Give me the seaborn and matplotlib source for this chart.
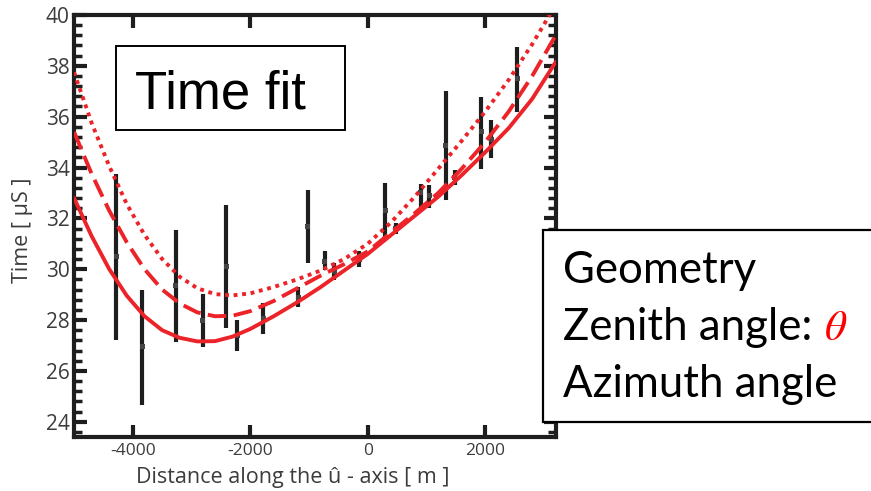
import numpy as np
import pandas as pd
import seaborn as sns
import matplotlib
matplotlib.use("Agg")
import matplotlib.pyplot as plt
from matplotlib.patches import Rectangle
from matplotlib.ticker import MultipleLocator

# ---------------- data ----------------
pt_x = [-4283, -3842, -3266, -2810, -2410, -2218, -1780, -1180, -1017, -734, -574,
        -142, 298, 478, 903, 1044, 1326, 1480, 1932, 2100, 2542]
pt_y = [30.5, 26.94, 29.37, 28.0, 30.09, 27.4, 28.07, 28.9, 31.67, 30.3, 29.9,
        30.4, 32.32, 31.6, 33.0, 32.9, 34.88, 33.6, 35.4, 35.1, 37.5]
pt_lo = [27.2, 24.65, 27.13, 26.94, 27.67, 26.78, 27.47, 28.5, 30.25, 29.96, 29.57,
         30.1, 31.14, 31.4, 32.45, 32.4, 32.72, 33.3, 33.96, 34.36, 36.19]
pt_hi = [33.74, 29.2, 31.56, 29.04, 32.52, 28.02, 28.67, 29.3, 33.1, 30.72, 30.24,
         30.7, 33.4, 31.8, 33.37, 33.3, 37.0, 33.9, 36.76, 35.87, 38.73]

fit_x = [-5000, -4700, -4400, -4100, -3800, -3500, -3200, -2900, -2600, -2300,
         -2000, -1600, -1200, -800, -400, 0, 400, 800, 1200, 1600, 2000, 2400,
         2800, 3200]
solid_y = [32.80, 31.30, 30.00, 28.95, 28.15, 27.60, 27.30, 27.16, 27.17, 27.35,
           27.65, 28.15, 28.70, 29.30, 29.95, 30.60, 31.35, 32.10, 32.85, 33.70,
           34.60, 35.55, 36.70, 38.15]
dash_y = [35.40, 33.75, 32.30, 31.05, 30.00, 29.20, 28.65, 28.30, 28.15, 28.17,
          28.35, 28.75, 29.25, 29.75, 30.20, 30.70, 31.45, 32.20, 33.00, 33.95,
          35.00, 36.20, 37.60, 39.20]
dot_y = [37.75, 35.75, 34.05, 32.55, 31.35, 30.40, 29.70, 29.25, 29.02, 28.97,
         29.05, 29.30, 29.60, 29.95, 30.40, 31.00, 31.85, 32.85, 33.95, 35.05,
         36.20, 37.45, 38.85, 40.40]

y_ticks = [24, 26, 28, 30, 32, 34, 36, 38, 40]
x_ticks = [-4000, -2000, 0, 2000]

# ---------------- styling ----------------
sns.set_theme(style="ticks")
plt.rcParams["font.family"] = ["Open Sans", "DejaVu Sans"]

RED = "#ec2328"
GRAY = "#3c3c3c"

fig = plt.figure(figsize=(8.71, 4.91), dpi=100)
ax = fig.add_axes([0.085, 0.110, 0.553, 0.8595])

# error bars
ax.vlines(pt_x, pt_lo, pt_hi, color="#1e1e1e", lw=3.0, zorder=2)
sns.scatterplot(x=pt_x, y=pt_y, marker="s", s=13, color="#454545",
                edgecolor="none", ax=ax, zorder=3, legend=False)

# fits
fits = pd.concat([
    pd.DataFrame({"x": fit_x, "y": solid_y, "fit": "solid"}),
    pd.DataFrame({"x": fit_x, "y": dash_y, "fit": "dashed"}),
    pd.DataFrame({"x": fit_x, "y": dot_y, "fit": "dotted"}),
], ignore_index=True)
sns.lineplot(data=fits, x="x", y="y", hue="fit", style="fit",
             palette={"solid": RED, "dashed": RED, "dotted": RED},
             dashes={"solid": "", "dashed": (4.8, 1.9), "dotted": (1.0, 1.2)},
             lw=2.8, sort=False, estimator=None, legend=False, ax=ax, zorder=4)

ax.set_xlim(-5000, 3200)
ax.set_ylim(23.4, 40)
ax.set_xticks(x_ticks)
ax.set_xticklabels([str(v) for v in x_ticks])
ax.set_yticks(y_ticks)
ax.yaxis.set_minor_locator(MultipleLocator(0.4))

for s in ax.spines.values():
    s.set_visible(True)
    s.set_linewidth(3.0)
    s.set_color("#1e1e1e")

ax.tick_params(axis="both", which="major", direction="in", width=3.0,
               length=9, color="#1e1e1e", labelcolor=GRAY,
               top=True, right=True, pad=4)
ax.tick_params(axis="x", which="major", labelsize=12.5)
ax.tick_params(axis="y", which="major", labelsize=15, pad=3)
ax.tick_params(axis="y", which="minor", direction="in", width=2.5, length=5.5,
               color="#1e1e1e", left=True, right=True)
ax.tick_params(axis="x", which="minor", bottom=False, top=False)

ax.set_xlabel("Distance along the û - axis [ m ]", fontsize=15.5, color=GRAY)
ax.xaxis.set_label_coords(0.455, -0.072)
ax.set_ylabel("Time [ μS ]", fontsize=15.5, color=GRAY)
ax.yaxis.set_label_coords(-0.085, 0.49)
ax.grid(False)

# "Time fit" box
fig.add_artist(Rectangle((0.1332, 0.7352), 0.2629, 0.1711, transform=fig.transFigure,
                         facecolor="white", edgecolor="black", lw=1.4, zorder=10))
fig.text(0.155, 0.78, "Time fit", fontsize=38, family=["Liberation Sans"],
         color="black", va="baseline", ha="left", zorder=11)

# Geometry box
fig.add_artist(Rectangle((0.6234, 0.1411), 0.40, 0.3904, transform=fig.transFigure,
                         facecolor="white", edgecolor="black", lw=1.6, zorder=10))
kw = dict(fontsize=31.5, family=["Lato", "DejaVu Sans"], color="black",
          va="baseline", ha="left", zorder=11)
fig.text(0.6467, 0.4236, "Geometry", **kw)
t2 = fig.text(0.6467, 0.3075, "Zenith angle: ", **kw)
fig.text(0.6467, 0.192, "Azimuth angle", **kw)

fig.canvas.draw()
bb = t2.get_window_extent(renderer=fig.canvas.get_renderer())
x_end = fig.transFigure.inverted().transform((bb.x1, bb.y0))[0]
fig.text(x_end, 0.3075, r"$\theta$", fontsize=31, color="#ff0000",
         math_fontfamily="stix", va="baseline", ha="left", zorder=11)

fig.savefig("out.png", dpi=100)
